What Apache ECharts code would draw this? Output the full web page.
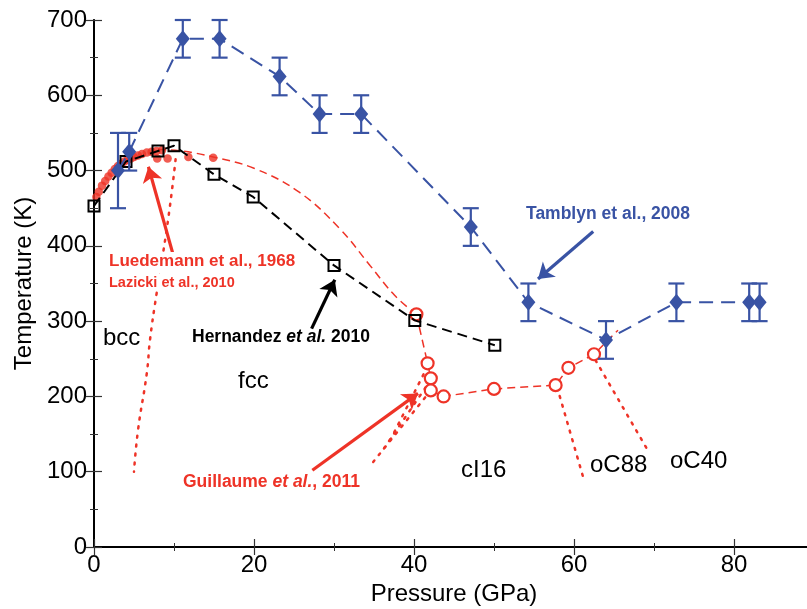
<!DOCTYPE html>
<html>
<head>
<meta charset="utf-8">
<script src="https://cdn.jsdelivr.net/npm/echarts@6/dist/echarts.min.js"></script>
<style>
  html, body { margin: 0; background: #fff; }
  #chart { width: 807px; height: 609px; }
</style>
</head>
<body>
<div id="chart"></div>
<script>
// Tamblyn et al., 2008 (blue diamonds with error bars)
const tamP = [3.0, 4.4, 11.1, 15.7, 23.2, 28.2, 33.4, 47.1, 54.3, 64.0, 72.8, 81.9, 83.2];
const tamT = [500, 525, 675, 675, 625, 575, 575, 425, 325, 275, 325, 325, 325];
const tamErr = [50, 25, 25, 25, 25, 25, 25, 25, 25, 25, 25, 25, 25];

// Hernandez et al. 2010 (black open squares)
const herP = [0.0, 4.0, 8.0, 10.0, 15.0, 19.9, 30.0, 40.1, 50.1];
const herT = [453, 512, 526, 533, 495, 465, 374, 301, 268];

// Luedemann 1968 / Lazicki 2010 (red dots)
const luedP = [0.3, 0.6, 1.0, 1.4, 1.8, 2.2, 2.6, 3.0, 3.4, 3.8, 4.2, 4.6, 5.0, 5.5, 6.0, 6.6, 7.2, 7.8, 8.5, 7.9, 9.2, 11.8, 14.9];
const luedT = [465, 472, 480, 486, 492, 497, 502, 506, 509, 512, 514, 516, 518, 520, 522, 524, 525, 526, 527, 516, 516, 518, 517];

// fitted melting curve (thin red dashed)
const fitP = [8, 11, 14.9, 20, 25.7, 30.7, 34.5, 37.6, 40.3];
const fitT = [528, 526, 518, 503, 471, 423, 374, 334, 309];

// Guillaume et al., 2011 (red open circles)
const guiP = [40.3, 41.7, 42.1, 42.1, 43.7, 50.0, 57.7, 59.3, 62.5];
const guiT = [309, 244, 224, 208, 200, 210, 215, 238, 256];
const guiTailP = [65.5];
const guiTailT = [288];

// dotted phase boundaries
const bccP = [10.2, 9.25, 7.8, 7.0, 6.6, 5.5, 5.0];
const bccT = [515, 434, 335, 275, 231, 155, 100];
const cI16aP = [42.1, 34.9];
const cI16aT = [208, 113];
const cI16bP = [42.1, 35.8];
const cI16bT = [222, 124];
const cI16cP = [41.7, 36.7];
const cI16cT = [240, 135];
const oC88P = [57.9, 61.3];
const oC88T = [212, 87];
const oC40P = [62.7, 69.3];
const oC40T = [248, 127];

// annotation arrows [tail, head]
const arrowFrom = [[9.9, 388], [27.2, 290], [27.3, 102], [62.4, 419]];
const arrowTo = [[6.8, 505], [30.1, 355], [40.5, 204], [55.5, 356]];
const arrowColors = ['#ee3327', '#000000', '#ee3327', '#3953a4'];

const xTicks = [0, 20, 40, 60, 80];
const yTicks = [0, 100, 200, 300, 400, 500, 600, 700];

const BLUE = '#3953a4';
const RED = '#ee3327';
const FONT = 'Liberation Sans, Arial, sans-serif';

const zip = (a, b) => a.map((v, i) => [v, b[i]]);

var chart = echarts.init(document.getElementById('chart'));

function dotted(p, t, smooth) {
  return {
    type: 'line', data: zip(p, t), showSymbol: false, symbol: 'none', smooth: smooth || false,
    lineStyle: { color: RED, width: 2.5, type: [2, 7], cap: 'round' }, z: 2, silent: true
  };
}

function axisCommon(extra) {
  return Object.assign({
    axisLine: { show: true, lineStyle: { color: '#000', width: 2 } },
    axisTick: { show: true, inside: true, length: 8, lineStyle: { color: '#333', width: 1.2 } },
    minorTick: { show: true, splitNumber: 2, length: 4, lineStyle: { color: '#333', width: 1 } },
    splitLine: { show: false },
    axisLabel: { color: '#000', fontSize: 24, fontFamily: FONT }
  }, extra);
}

var option = {
  backgroundColor: '#fff',
  animation: false,
  grid: { left: 94, width: 720, top: 20, bottom: 62, outerBoundsMode: 'none' },
  xAxis: [
    axisCommon({
      type: 'value', min: 0, max: 90, interval: 20, position: 'bottom',
      name: 'Pressure (GPa)', nameLocation: 'middle', nameGap: 34,
      nameTextStyle: { color: '#000', fontSize: 24, fontFamily: FONT },
      axisLabel: { color: '#000', fontSize: 24, fontFamily: FONT, margin: 6,
        formatter: v => xTicks.includes(v) ? String(v) : '' }
    }),
    axisCommon({
      type: 'value', min: 0, max: 90, interval: 20, position: 'top',
      axisLine: { show: true, lineStyle: { color: '#000', width: 1.5 } },
      axisLabel: { show: false }
    })
  ],
  yAxis: [
    axisCommon({
      type: 'value', min: 0, max: 700, interval: 100, position: 'left',
      name: 'Temperature (K)', nameLocation: 'middle', nameGap: 43,
      nameTextStyle: { color: '#000', fontSize: 24, fontFamily: FONT },
      axisLabel: { color: '#000', fontSize: 24, fontFamily: FONT, margin: 7,
        formatter: v => yTicks.includes(v) ? String(v) : '' }
    }),
    axisCommon({
      type: 'value', min: 0, max: 700, interval: 100, position: 'right',
      axisLine: { show: true, lineStyle: { color: '#000', width: 1.5 } },
      axisLabel: { show: false }
    })
  ],
  series: [
    dotted(bccP, bccT, true),
    dotted(cI16aP, cI16aT),
    dotted(cI16bP, cI16bT),
    dotted(cI16cP, cI16cT),
    dotted(oC88P, oC88T),
    dotted(oC40P, oC40T),
    {
      name: 'fit', type: 'line', data: zip(fitP, fitT), smooth: 0.4, showSymbol: false, symbol: 'none',
      lineStyle: { color: RED, width: 1.5, type: [8, 5] }, z: 3
    },
    {
      name: 'Guillaume', type: 'line',
      data: zip(guiP, guiT).concat(zip(guiTailP, guiTailT).map(v => ({ value: v, symbol: 'none' }))),
      symbol: 'circle', symbolSize: 12, showSymbol: true,
      itemStyle: { color: '#fff', borderColor: RED, borderWidth: 2.2 },
      lineStyle: { color: RED, width: 1.5, type: [8, 5] }, z: 4
    },
    {
      name: 'Hernandez', type: 'line', data: zip(herP, herT),
      symbol: 'rect', symbolSize: 11,
      itemStyle: { color: 'rgba(255,255,255,0)', borderColor: '#000', borderWidth: 2 },
      lineStyle: { color: '#000', width: 2, type: [10, 6] }, z: 6
    },
    {
      name: 'Luedemann', type: 'scatter', data: zip(luedP, luedT),
      symbol: 'circle', symbolSize: 8.5, itemStyle: { color: RED }, z: 5
    },
    {
      name: 'Tamblyn err', type: 'custom',
      data: tamP.map((p, i) => [p, tamT[i] - tamErr[i], tamT[i] + tamErr[i]]),
      renderItem: function (params, api) {
        var lo = api.coord([api.value(0), api.value(1)]);
        var hi = api.coord([api.value(0), api.value(2)]);
        var hw = 8;
        var st = { stroke: BLUE, lineWidth: 2.2 };
        return {
          type: 'group',
          children: [
            { type: 'line', shape: { x1: lo[0], y1: lo[1], x2: hi[0], y2: hi[1] }, style: st },
            { type: 'line', shape: { x1: lo[0] - hw, y1: lo[1], x2: lo[0] + hw, y2: lo[1] }, style: st },
            { type: 'line', shape: { x1: hi[0] - hw, y1: hi[1], x2: hi[0] + hw, y2: hi[1] }, style: st }
          ]
        };
      },
      z: 7
    },
    {
      name: 'Tamblyn', type: 'line', data: zip(tamP, tamT),
      symbol: 'diamond', symbolSize: [14, 17],
      itemStyle: { color: BLUE },
      lineStyle: { color: BLUE, width: 2, type: [14, 8] }, z: 8
    },
    {
      name: 'arrows', type: 'lines', coordinateSystem: 'cartesian2d',
      data: arrowFrom.map((f, i) => ({ coords: [f, arrowTo[i]], lineStyle: { color: arrowColors[i] } })),
      symbol: ['none', 'arrow'], symbolSize: 15,
      lineStyle: { width: 3.2, opacity: 1 }, z: 9
    }
  ],
  graphic: [
    { type: 'text', left: 107, top: 252, z: 20, style: { text: 'Luedemann et al., 1968', fill: RED, font: 'bold 17px ' + FONT,
        backgroundColor: '#fff', padding: [1, 2] } },
    { type: 'text', left: 107, top: 274, z: 20, style: { text: 'Lazicki et al., 2010', fill: RED, font: 'bold 14.5px ' + FONT,
        backgroundColor: '#fff', padding: [1, 2] } },
    { type: 'text', left: 192, top: 328, style: {
        text: '{b|Hernandez }{i|et al.}{b| 2010}', rich: {
          b: { fill: '#000', font: 'bold 17.5px ' + FONT },
          i: { fill: '#000', font: 'italic bold 17.5px ' + FONT } } } },
    { type: 'text', left: 183, top: 473, style: {
        text: '{b|Guillaume }{i|et al.}{b|, 2011}', rich: {
          b: { fill: RED, font: 'bold 17.5px ' + FONT },
          i: { fill: RED, font: 'italic bold 17.5px ' + FONT } } } },
    { type: 'text', left: 526, top: 205, style: { text: 'Tamblyn et al., 2008', fill: BLUE, font: 'bold 17.5px ' + FONT } },
    { type: 'text', left: 103, top: 326, style: { text: 'bcc', fill: '#000', font: '24px ' + FONT } },
    { type: 'text', left: 238, top: 369, style: { text: 'fcc', fill: '#000', font: '24px ' + FONT } },
    { type: 'text', left: 461, top: 458, style: { text: 'cI16', fill: '#000', font: '24px ' + FONT } },
    { type: 'text', left: 590, top: 453, style: { text: 'oC88', fill: '#000', font: '24px ' + FONT } },
    { type: 'text', left: 670, top: 449, style: { text: 'oC40', fill: '#000', font: '24px ' + FONT } }
  ]
};

chart.setOption(option);
window.addEventListener('resize', chart.resize);
</script>
</body>
</html>
